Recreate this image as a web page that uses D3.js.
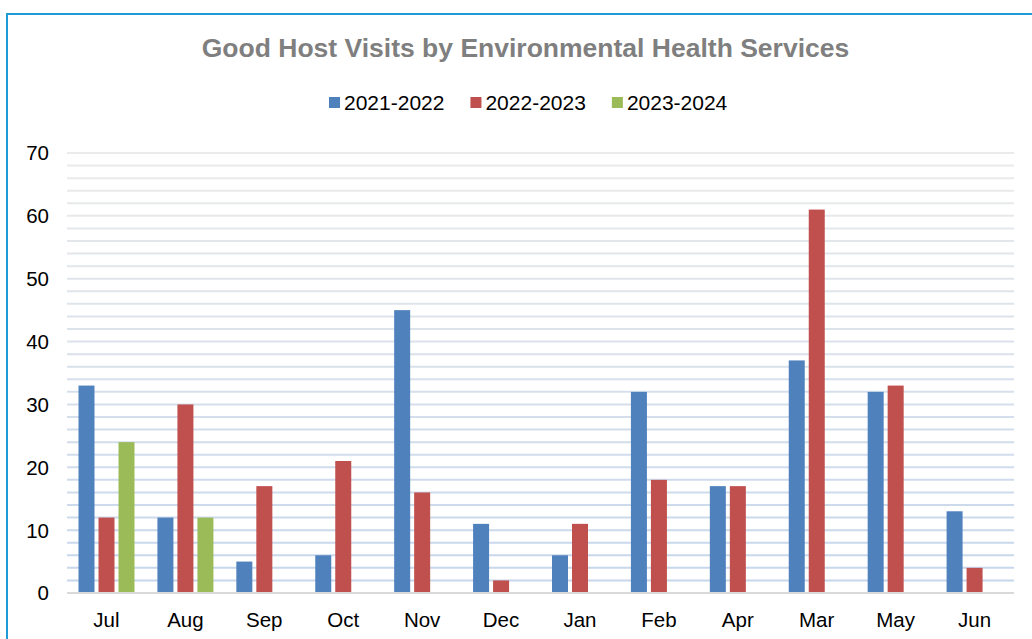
<!DOCTYPE html>
<html>
<head>
<meta charset="utf-8">
<script src="https://cdn.jsdelivr.net/npm/d3@7"></script>
<style>
  body { margin: 0; background: #fff; }
  text { font-family: "Liberation Sans", Arial, sans-serif; }
</style>
</head>
<body>
<div id="chart"></div>
<script>
// data
var months = ["Jul", "Aug", "Sep", "Oct", "Nov", "Dec", "Jan", "Feb", "Apr", "Mar", "May", "Jun"];
var seriesNames = ["2021-2022", "2022-2023", "2023-2024"];
var fy2122 = [33, 12, 5, 6, 45, 11, 6, 32, 17, 37, 32, 13];
var fy2223 = [12, 30, 17, 21, 16, 2, 11, 18, 17, 61, 33, 4];
var fy2324 = [24, 12, null, null, null, null, null, null, null, null, null, null];
var colors = ["#4f81bd", "#c0504d", "#9bbb59"];
var yTicks = [0, 10, 20, 30, 40, 50, 60, 70];

var allSeries = [fy2122, fy2223, fy2324];

var W = 1032, H = 639;
var svg = d3.select("#chart").append("svg")
    .attr("width", W)
    .attr("height", H);

// outer frame (only left/top visible, rest is cut off)
svg.append("path")
    .attr("d", "M7,639 V14 H1032")
    .attr("fill", "none")
    .attr("stroke", "#1e9bd7")
    .attr("stroke-width", 2);

// title
svg.append("text")
    .attr("x", 525.5)
    .attr("y", 57)
    .attr("text-anchor", "middle")
    .style("font-size", "26.5px")
    .style("font-weight", "bold")
    .style("fill", "#7f7f7f")
    .text("Good Host Visits by Environmental Health Services");

var x0 = d3.scaleBand().domain(months).range([67, 1014]);
var x1 = d3.scaleBand().domain(seriesNames).range([11.5, 67.5]).paddingInner(0.2);
var y = d3.scaleLinear().domain([0, 70]).range([593, 153]);

// gridlines every 2, fading from gray at top to light blue at bottom
var gridColor = d3.interpolateRgb("#c5d6ec", "#ebebeb");
svg.append("g").selectAll("line")
    .data(y.ticks(35).filter(function(d) { return d > 0; }))
    .enter().append("line")
    .attr("x1", 67).attr("x2", 1014)
    .attr("y1", function(d) { return y(d); })
    .attr("y2", function(d) { return y(d); })
    .attr("stroke", function(d) { return gridColor(d / 70); })
    .attr("stroke-width", 2);

// y labels
svg.append("g").selectAll("text")
    .data(yTicks)
    .enter().append("text")
    .attr("x", 49)
    .attr("y", function(d) { return y(d); })
    .attr("dy", "0.36em")
    .attr("text-anchor", "end")
    .style("font-size", "20.5px")
    .style("fill", "#000")
    .text(function(d) { return d; });

// bars
var groups = svg.append("g").selectAll("g")
    .data(months)
    .enter().append("g")
    .attr("transform", function(d) { return "translate(" + x0(d) + ",0)"; });

groups.selectAll("rect")
    .data(function(m, i) {
        return allSeries.map(function(s, k) {
            return { name: seriesNames[k], value: s[i], k: k };
        }).filter(function(d) { return d.value != null; });
    })
    .enter().append("rect")
    .attr("x", function(d) { return x1(d.name); })
    .attr("width", x1.bandwidth())
    .attr("y", function(d) { return y(d.value); })
    .attr("height", function(d) { return y(0) - y(d.value); })
    .style("fill", function(d) { return colors[d.k]; });

// baseline
svg.append("line")
    .attr("x1", 67).attr("x2", 1014)
    .attr("y1", y(0)).attr("y2", y(0))
    .attr("stroke", "#d9d9d9")
    .attr("stroke-width", 2);

// month labels
svg.append("g").selectAll("text")
    .data(months)
    .enter().append("text")
    .attr("x", function(d) { return x0(d) + x0.bandwidth() / 2; })
    .attr("y", 627)
    .attr("text-anchor", "middle")
    .style("font-size", "20.5px")
    .style("fill", "#000")
    .text(function(d) { return d; });

// legend
var lx = 329;
seriesNames.forEach(function(name, k) {
    svg.append("rect")
        .attr("x", lx).attr("y", 97)
        .attr("width", 11).attr("height", 11)
        .style("fill", colors[k]);
    var t = svg.append("text")
        .attr("x", lx + 15)
        .attr("y", 110)
        .style("font-size", "21px")
        .style("fill", "#000")
        .text(name);
    lx += 15 + t.node().getComputedTextLength() + 26;
});
</script>
</body>
</html>
